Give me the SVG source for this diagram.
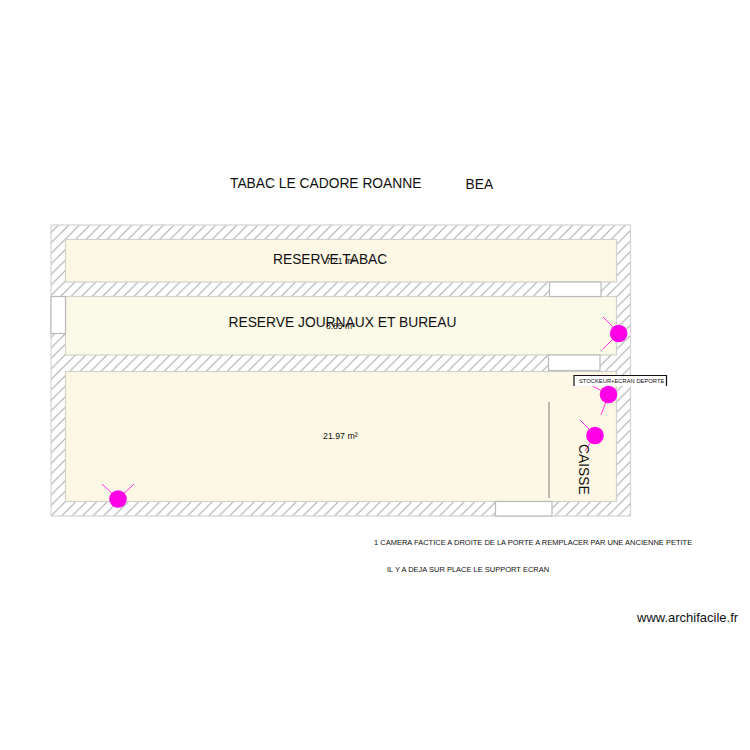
<svg xmlns="http://www.w3.org/2000/svg" width="750" height="750" viewBox="0 0 750 750">
<style>
text{font-family:"Liberation Sans",Arial,sans-serif;fill:#111}
.room{stroke:#d2d2ca;stroke-width:1.2}
.open{fill:#fff;stroke:#bbb;stroke-width:1.2}
.cam{fill:#ff00e6}
.ray{stroke:#ff00e6;stroke-width:.8;fill:none}
</style>
<defs>
<pattern id="h" width="10.5" height="10.5" patternUnits="userSpaceOnUse">
<path d="M-2 12.5L12.5 -2M-2 2L2 -2M8.500 12.500L12.500 8.500" stroke="#a6a6a6" stroke-width="1" fill="none"/>
</pattern>
</defs>
<rect width="750" height="750" fill="#fff"/>
<g id="walls"><rect x="51" y="225" width="579.500" height="291" fill="url(#h)" stroke="#d4d4d4" stroke-width="1.200"/></g>
<g id="room-tabac"><rect class="room" x="65.500" y="239.500" width="551" height="42.500" fill="#fdf8e6"/></g>
<g id="room-journaux"><rect class="room" x="65.500" y="296.500" width="551" height="58.500" fill="#fbf9e8"/></g>
<g id="room-main"><rect class="room" x="65.500" y="371.500" width="551" height="130" fill="#fdf8e5"/></g>
<g id="openings">
<rect class="open" x="51" y="296.500" width="14.500" height="37"/>
<rect class="open" x="549.500" y="282" width="51.500" height="14.500"/>
<rect class="open" x="548.500" y="355" width="51.500" height="15.500"/>
<rect class="open" x="495.500" y="501.500" width="56.500" height="14.500"/>
</g>
<g id="partition"><line x1="549" y1="402" x2="549" y2="498" stroke="#a8a498" stroke-width="1.500"/></g>
<g id="label-box"><rect x="574" y="376" width="92" height="10" fill="#fff"/><path d="M574 386V375.500H666.500V386" fill="none" stroke="#111" stroke-width="1.200"/></g>
<g id="connectors">
<path class="ray" d="M603 317L619 333M603 349L619 333"/>
<path class="ray" d="M593 386.500L609 394M601 415L609 394"/>
<path class="ray" d="M580 420L595 435M585 451L595 435"/>
<path class="ray" d="M102 484L118 499M134 484L118 499"/>
</g>
<g id="cam1"><circle class="cam" cx="618.700" cy="333.500" r="8.800"/></g>
<g id="cam2"><circle class="cam" cx="608.500" cy="394.500" r="8.800"/></g>
<g id="cam3"><circle class="cam" cx="595" cy="435.500" r="8.800"/></g>
<g id="cam4"><circle class="cam" cx="118" cy="499" r="8.800"/></g>
<g id="labels">
<text x="230" y="188" font-size="13.800">TABAC LE CADORE ROANNE</text>
<text x="465.500" y="189" font-size="13.800">BEA</text>
<text x="273" y="264" font-size="13.800">RESERVE TABAC</text>
<text x="326" y="264" font-size="8.500">7.21 m²</text>
<text x="228.500" y="327" font-size="13.800">RESERVE JOURNAUX ET BUREAU</text>
<text x="326" y="329" font-size="8.500">8.85 m²</text>
<text x="323" y="439" font-size="8.800">21.97 m²</text>
<text x="579" y="383" font-size="5.800">STOCKEUR+ECRAN DEPORTE</text>
<text transform="translate(578.500 444) rotate(90)" font-size="13.800">CAISSE</text>
<text x="374" y="545" font-size="7.500">1 CAMERA FACTICE A DROITE DE LA PORTE A REMPLACER PAR UNE ANCIENNE PETITE</text>
<text x="387" y="572" font-size="7.500">IL Y A DEJA SUR PLACE LE SUPPORT ECRAN</text>
<text x="637" y="622" font-size="13">www.archifacile.fr</text>
</g>
</svg>
